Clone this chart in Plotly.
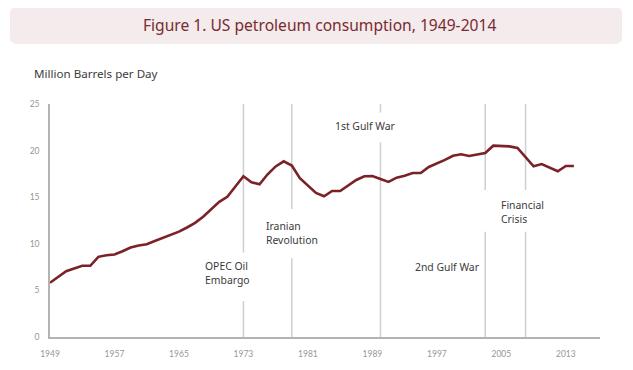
import plotly.graph_objects as go

years = list(range(1949, 2015))
consumption = [
    5.82, 6.45, 7.05, 7.35, 7.64, 7.64, 8.60, 8.78, 8.86, 9.20,
    9.60, 9.82, 9.96, 10.30, 10.65, 10.95, 11.30, 11.75, 12.25, 12.90,
    13.75, 14.50, 15.05, 16.10, 17.25, 16.60, 16.39, 17.46, 18.30, 18.85,
    18.40, 17.03, 16.20, 15.46, 15.10, 15.67, 15.67, 16.30, 16.85, 17.24,
    17.28, 16.95, 16.64, 17.10, 17.30, 17.60, 17.60, 18.24, 18.60, 19.00,
    19.45, 19.60, 19.42, 19.60, 19.75, 20.53, 20.53, 20.45, 20.28, 19.30,
    18.32, 18.56, 18.15, 17.78, 18.35, 18.35,
]

event_years = [1973, 1979, 1990, 2003, 2008]
event_labels = ["OPEC Oil<br>Embargo", "Iranian<br>Revolution", "1st Gulf War", "2nd Gulf War", "Financial<br>Crisis"]

x_ticks = [1949, 1957, 1965, 1973, 1981, 1989, 1997, 2005, 2013]
y_ticks = [0, 5, 10, 15, 20, 25]

title_text = "Figure 1. US petroleum consumption, 1949-2014"
unit_text = "Million Barrels per Day"

TEXT_FONT = "Noto Sans"

# ---- layout geometry (target page pixels; page body has an 8px margin) ----
OFF = 8
W, H = 633 - OFF, 370 - OFF
PL, PR, PT, PB = 50, 600, 104, 337          # plot area in page pixels
ML, MT = PL - OFF, PT - OFF
MR, MB = W - (PR - OFF), H - (PB - OFF)
PW, PH = PR - PL, PB - PT
XMIN, XMAX = 1949, 1949 + PW / 8.06
YMIN, YMAX = 0, 25

def px_to_paper(px, py):
    return (px - PL) / PW, (PB - py) / PH

# drawn parts of the event lines (data y ranges)
event_segments = [
    [(0, 3.86), (9.05, 25)],
    [(0, 8.44), (13.73, 25)],
    [(0, 20.89), (24.07, 25)],
    [(0, 11.3), (15.77, 25)],
    [(0, 11.3), (15.77, 25)],
]
# label placement: (left x in data years, vertical centre in data units)
label_pos = [
    (1967.95, 6.84),
    (1975.6, 11.2),
    (1984.1, 22.67),
    (1994.0, 7.55),
    (2004.75, 13.45),
]

fig = go.Figure()
fig.add_trace(go.Scatter(
    x=years, y=consumption, mode="lines",
    line=dict(color="#7a2227", width=2.6),
    hoverinfo="x+y", showlegend=False,
))

shapes = []
for yr, segs in zip(event_years, event_segments):
    for y0, y1 in segs:
        shapes.append(dict(type="line", xref="x", yref="y", x0=yr, x1=yr, y0=y0, y1=y1,
                           line=dict(color="#cfcfcf", width=1.5), layer="below"))

# rounded title box
bx0, by0, bx1, by1, r = 10, 7, 622, 44, 7
def P(px, py):
    a, b = px_to_paper(px, py)
    return f"{a:.5f},{b:.5f}"
path = (f"M {P(bx0 + r, by0)} L {P(bx1 - r, by0)} Q {P(bx1, by0)} {P(bx1, by0 + r)} "
        f"L {P(bx1, by1 - r)} Q {P(bx1, by1)} {P(bx1 - r, by1)} "
        f"L {P(bx0 + r, by1)} Q {P(bx0, by1)} {P(bx0, by1 - r)} "
        f"L {P(bx0, by0 + r)} Q {P(bx0, by0)} {P(bx0 + r, by0)} Z")
shapes.append(dict(type="path", xref="paper", yref="paper", path=path,
                   fillcolor="#f3ebec", line=dict(width=0), layer="below"))

annotations = []
tx, ty = px_to_paper(319, 25)
annotations.append(dict(text=title_text, xref="paper", yref="paper", x=tx, y=ty,
                        xanchor="center", yanchor="middle", showarrow=False,
                        font=dict(family=TEXT_FONT, size=15.6, color="#7a2a31")))
ux, uy = px_to_paper(32, 73)
annotations.append(dict(text=unit_text, xref="paper", yref="paper", x=ux, y=uy,
                        xanchor="left", yanchor="middle", showarrow=False,
                        font=dict(family=TEXT_FONT, size=11.6, color="#3c3c3c")))

for label, (lx, ly) in zip(event_labels, label_pos):
    annotations.append(dict(text=label, xref="x", yref="y", x=lx, y=ly,
                            xanchor="left", yanchor="middle", align="left", showarrow=False,
                            font=dict(family=TEXT_FONT, size=10.4, color="#3a3a3a")))

fig.update_layout(
    width=W, height=H,
    margin=dict(l=ML, r=MR, t=MT, b=MB, pad=0),
    paper_bgcolor="white", plot_bgcolor="white",
    shapes=shapes, annotations=annotations,
    xaxis=dict(range=[XMIN, XMAX], tickvals=x_ticks, ticktext=[str(t) for t in x_ticks],
               showgrid=False, zeroline=False, showline=True, linecolor="#b3b3b3", linewidth=1.5,
               ticks="", ticklabelstandoff=8,
               tickfont=dict(family="Lato", size=8.5, color="#9b9592")),
    yaxis=dict(range=[YMIN, YMAX], tickvals=y_ticks, ticktext=[str(t) for t in y_ticks],
               showgrid=False, zeroline=False, showline=True, linecolor="#b3b3b3", linewidth=1.5,
               ticks="", ticklabelstandoff=7,
               tickfont=dict(family="Lato", size=8.5, color="#9b9592")),
    font=dict(family="Lato"),
)

fig.write_html("out.html")
